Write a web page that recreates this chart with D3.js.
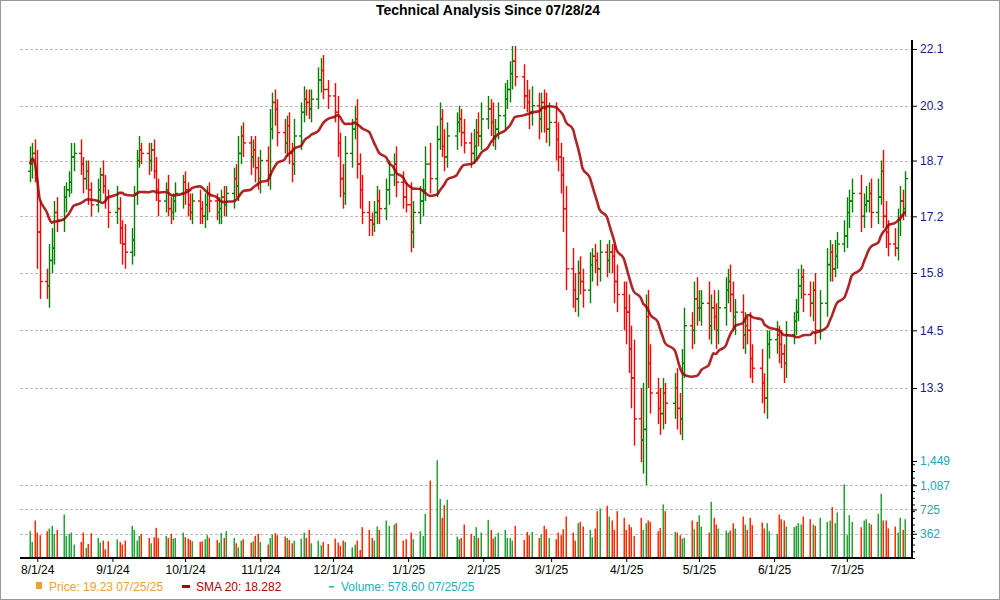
<!DOCTYPE html>
<html><head><meta charset="utf-8">
<script src="https://cdn.jsdelivr.net/npm/d3@7"></script>
<style>body{margin:0;background:#fff}text{font-family:"Liberation Sans",Arial,sans-serif}</style>
</head><body><svg id="c" width="1000" height="600"></svg>
<script>
"use strict";
// closes by month
var closes = [].concat(
 [18.6,18.9,18.4],
 [16.8,15.6,15.5,16.1,16.4,17.3,17.1,17.7,17.9,18.1,18.8,18.9,18.6,18.2,18.4,17.9,17.5,17.9,18.3,18.0,17.7,17.3],
 [17.4,16.9,16.5,16.3,16.6,17.8,18.7,19.0,18.9,18.7,19.0,18.4,17.9,17.6,17.9,17.4,17.3,17.6,17.8,18.1],
 [17.9,17.5,17.3,17.6,17.4,17.2,17.5,17.8,17.6,17.3,17.4,17.7,17.5,17.8,18.2,18.0,18.9,19.4,19.2,18.8,19.0,18.5,18.2],
 [18.7,18.3,19.6,20.4,20.2,19.5,19.2,19.7,18.9,18.6,19.4,20.1,20.5,20.4,20.2,20.5,21.1,21.4,20.8,20.6],
 [20.1,19.2,18.2,17.8,18.9,19.6,19.9,18.6,17.9,17.3,17.1,17.0,17.3,17.6,17.4,17.9,18.3,18.6,18.1,17.7,17.5],
 [16.8,17.3,17.6,17.9,18.6,18.2,19.3,19.9,19.1,18.8,19.4,19.8,19.9,19.5,19.2,18.9,19.1,19.5,19.4,19.9],
 [20.2,19.8,19.4,19.6,20.0,20.5,20.8,21.3,21.7,21.2,20.6,20.4,20.1,20.3,19.9,20.4,20.2,19.6,19.8],
 [19.3,18.8,18.3,17.4,15.9,15.4,15.2,15.8,15.6,15.4,16.0,16.2,16.1,15.9,16.3,16.1,16.3,16.2,15.6,15.3,15.0],
 [14.9,14.1,13.5,12.7,12.3,12.5,14.8,13.8,13.2,12.9,12.8,13.2,13.0,13.3,12.9,12.7,13.8,14.6,14.5,15.2,15.0],
 [15.0,15.1,14.6,15.0,14.8,14.5,15.0,15.4,15.6,15.3,14.8,14.9,14.4,14.6,14.5,13.9,13.7,13.4,13.1,14.2,14.3],
 [14.4,14.2,14.0,13.8,14.4,14.7,14.9,15.5,15.7,15.3,15.1,15.4,14.5,15.1,16.0,16.3,15.9,16.2,16.5,16.7],
 [17.3,17.6,17.8,17.2,17.5,17.6,17.8,17.3,17.7,18.4,17.2,16.8,16.5,16.4,17.1,17.6,17.4,18.2]
);
var wickUp = [].concat(
 [0.5,0.3,0.4],
 [0.6,0.8,0.3,0.4,0.5,0.3,0.4,0.3,0.2,0.3,0.4,0.3,0.4,0.2,0.3,0.3,0.2,0.3,0.2,0.4,0.3,0.2],
 [0.6,0.3,0.2,0.5,0.3,0.2,0.3,0.4,0.2,0.3,0.2,0.3,0.4,0.3,0.2,0.4,0.3,0.2,0.3,0.2],
 [0.3,0.2,0.3,0.2,0.3,0.2,0.3,0.2,0.3,0.2,0.3,0.2,0.3,0.2,0.3,0.4,0.5,0.3,0.4,0.2,0.3,0.4,0.3],
 [0.3,0.4,0.6,0.3,0.4,0.3,0.4,0.3,0.4,0.3,0.5,0.3,0.4,0.3,0.4,0.3,0.4,0.4,0.5,0.3],
 [0.4,0.5,0.3,0.4,0.5,0.3,0.4,0.6,0.3,0.4,0.3,0.2,0.3,0.4,0.3,0.3,0.4,0.3,0.5,0.3,0.4],
 [0.6,0.3,0.4,0.3,0.5,0.6,0.4,0.5,0.3,0.5,0.4,0.3,0.4,0.3,0.4,0.3,0.5,0.4,0.6,0.5],
 [0.4,0.3,0.6,0.3,0.4,0.5,0.3,0.4,0.5,0.5,0.4,0.5,0.4,0.6,0.4,0.3,0.4,0.5,0.6],
 [0.6,0.5,0.4,0.5,0.6,0.5,0.4,0.3,0.4,0.3,0.3,0.2,0.3,0.2,0.3,0.2,0.3,0.2,0.3,0.4,0.3],
 [0.6,0.4,0.5,0.8,0.6,0.9,0.5,0.6,0.4,0.3,0.4,0.3,0.2,0.3,0.4,0.3,0.3,0.4,0.3,0.4,0.5],
 [0.4,0.3,0.5,0.3,0.4,0.3,0.4,0.3,0.3,0.4,0.3,0.3,0.4,0.3,0.2,0.4,0.3,0.4,0.2,0.3,0.2],
 [0.3,0.2,0.3,0.2,0.3,0.2,0.3,0.4,0.3,0.2,0.3,0.2,0.4,0.3,0.4,0.3,0.2,0.4,0.3,0.4],
 [0.4,0.3,0.4,0.5,0.3,0.4,0.3,0.4,0.5,0.3,0.6,0.4,0.3,0.4,0.3,0.4,0.3,0.2]
);
var wickDown = [].concat(
 [0.3,0.4,0.3],
 [0.9,0.4,0.3,0.5,0.3,0.4,0.3,0.3,0.4,0.2,0.3,0.4,0.3,0.4,0.3,0.4,0.3,0.2,0.3,0.2,0.3,0.4],
 [0.3,0.4,0.5,0.4,0.3,0.4,0.3,0.2,0.3,0.4,0.3,0.2,0.3,0.4,0.3,0.2,0.3,0.2,0.3,0.4],
 [0.4,0.3,0.2,0.3,0.4,0.2,0.3,0.4,0.3,0.2,0.3,0.4,0.3,0.3,0.4,0.3,0.4,0.3,0.4,0.5,0.3,0.4,0.3],
 [0.4,0.3,0.4,0.3,0.5,0.4,0.3,0.4,0.3,0.5,0.3,0.4,0.3,0.4,0.3,0.4,0.3,0.4,0.3,0.4],
 [0.3,0.4,0.5,0.4,0.3,0.4,0.3,0.4,0.5,0.3,0.4,0.3,0.2,0.3,0.4,0.3,0.4,0.3,0.4,0.3,0.2],
 [0.5,0.4,0.3,0.4,0.3,0.4,0.5,0.3,0.3,0.4,0.3,0.4,0.3,0.4,0.3,0.4,0.3,0.4,0.3,0.4],
 [0.3,0.4,0.3,0.4,0.3,0.4,0.3,0.4,0.5,0.3,0.4,0.3,0.5,0.4,0.6,0.4,0.7,0.4,0.5],
 [0.6,0.4,0.5,0.6,0.5,0.4,0.3,0.4,0.3,0.4,0.3,0.4,0.3,0.4,0.3,0.4,0.3,0.4,0.5,0.4,0.5],
 [0.7,0.5,0.6,0.5,0.4,0.6,1.0,0.5,0.4,0.3,0.4,0.3,0.4,0.3,0.4,0.3,0.4,0.3,0.4,0.3,0.4],
 [0.3,0.4,0.3,0.4,0.3,0.4,0.3,0.4,0.3,0.4,0.3,0.4,0.3,0.4,0.3,0.4,0.3,0.4,0.3,0.4,0.3],
 [0.3,0.4,0.3,0.4,0.3,0.2,0.3,0.2,0.3,0.4,0.3,0.4,0.3,0.2,0.3,0.4,0.3,0.2,0.3,0.2],
 [0.3,0.4,0.3,0.4,0.3,0.2,0.3,0.4,0.3,0.2,0.3,0.4,0.3,0.2,0.3,0.4,0.3,0.2]
);
var volumes = [].concat(
 [400,240,560],
 [380,340,400,440,480,360,420,650,330,360,380,200,240,380,150,210,370,300,230,260,130,250],
 [280,240,200,260,480,420,260,330,360,300,220,310,450,300,330,300,360,290,300,380],
 [310,290,270,250,240,250,280,340,300,270,230,370,300,400,300,220,160,260,280,230,250,330,360],
 [240,200,300,350,370,340,320,300,270,220,260,290,380,300,420,220,260,190,240,210],
 [290,230,180,260,240,160,200,260,120,460,420,300,260,470,420,560,480,500,520,260,280],
 [380,280,400,330,660,1155,1460,880,600,790,870,320,280,300,500,360,330,460,300,380],
 [570,420,290,320,380,420,300,300,260,480,270,390,340,390,300,350,480,430,300],
 [280,380,340,430,620,380,260,520,540,470,420,310,440,700,740,780,620,560,420,700,600],
 [420,500,460,330,600,420,520,560,540,400,450,800,700,390,380,340,290,300,560,430,540],
 [640,470,380,840,600,500,440,410,380,410,520,440,620,500,420,600,490,530,440,520,400],
 [360,650,580,560,470,460,480,520,500,620,580,500,480,600,540,560,760,520,680,1100],
 [340,640,540,460,560,580,520,500,660,960,560,560,440,470,380,600,420,580]
);
var priceTicks = [13.3, 14.5, 15.8, 17.2, 18.7, 20.3, 22.1];
var volumeTicks = [362, 725, 1087, 1449];
var dateTicks = ["8/1/24","9/1/24","10/1/24","11/1/24","12/1/24","1/1/25","2/1/25","3/1/25","4/1/25","5/1/25","6/1/25","7/1/25"];
var holidays = ["2024-09-02","2024-11-28","2024-12-25","2025-01-01","2025-01-09","2025-01-20","2025-02-17","2025-04-18","2025-05-26","2025-06-19","2025-07-04"];

// trading calendar
var fmtKey = d3.timeFormat("%Y-%m-%d");
var dates = d3.timeDays(new Date(2024, 6, 29), new Date(2025, 6, 26))
  .filter(function(d) { return d.getDay() % 6 !== 0 && holidays.indexOf(fmtKey(d)) < 0; });

var bars = closes.map(function(c, i) {
  var o = i ? closes[i - 1] : 18.4;
  return { date: dates[i], open: o, close: c,
    high: Math.max(o, c) + wickUp[i], low: Math.min(o, c) - wickDown[i],
    vol: volumes[i], up: c >= o };
}).filter(function(b) { return b.date; });
bars.forEach(function(b, i) {
  var w = bars.slice(Math.max(0, i - 19), i + 1);
  b.sma = d3.mean(w, function(d) { return d.close; });
});

var svg = d3.select("#c");
var x = d3.scaleTime().domain([dates[0], dates[dates.length - 1]]).range([30, 905]);
var y = d3.scaleLog().domain([13.3, 22.1]).range([388, 49]);
var yv = d3.scaleLinear().domain([0, 1449]).range([558, 461]);
var axisX = 912;

svg.append("rect").attr("x", 0.5).attr("y", 0.5).attr("width", 999).attr("height", 599)
  .attr("fill", "none").attr("stroke", "#999");
svg.append("text").attr("x", 488).attr("y", 15).attr("text-anchor", "middle")
  .attr("font-size", 14).attr("font-weight", "bold").text("Technical Analysis Since 07/28/24");

// grids
svg.selectAll("line.pg").data(priceTicks).enter().append("line")
  .attr("x1", 20).attr("x2", axisX).attr("y1", function(d) { return Math.round(y(d)) + 0.5; })
  .attr("y2", function(d) { return Math.round(y(d)) + 0.5; })
  .attr("stroke", "#bbb").attr("stroke-dasharray", "3,2");
svg.selectAll("line.vg").data(volumeTicks.slice(0, 3)).enter().append("line")
  .attr("x1", 20).attr("x2", axisX).attr("y1", function(d) { return Math.round(yv(d)) + 0.5; })
  .attr("y2", function(d) { return Math.round(yv(d)) + 0.5; })
  .attr("stroke", "#bbb").attr("stroke-dasharray", "3,2");

// price bars
var g = svg.append("g").attr("stroke-width", 1.4);
bars.forEach(function(b) {
  var cx = Math.round(x(b.date)) + 0.5, col = b.up ? "#008000" : "#ff0000";
  g.append("line").attr("x1", cx).attr("x2", cx).attr("y1", y(b.high)).attr("y2", y(b.low)).attr("stroke", col);
  g.append("line").attr("x1", cx - 2.5).attr("x2", cx).attr("y1", y(b.open)).attr("y2", y(b.open)).attr("stroke", col);
  g.append("line").attr("x1", cx).attr("x2", cx + 2.5).attr("y1", y(b.close)).attr("y2", y(b.close)).attr("stroke", col);
});
svg.append("path").datum(bars)
  .attr("d", d3.line().x(function(d) { return x(d.date); }).y(function(d) { return y(d.sma); }).curve(d3.curveMonotoneX))
  .attr("fill", "none").attr("stroke", "#a00000").attr("stroke-opacity", 0.85).attr("stroke-width", 2.6);

// volume bars
svg.append("g").selectAll("rect").data(bars).enter().append("rect")
  .attr("x", function(d) { return Math.round(x(d.date)) - 0.5; }).attr("width", 1.5)
  .attr("y", function(d) { return yv(d.vol); }).attr("height", function(d) { return 558 - yv(d.vol); })
  .attr("fill", function(d) { return d.up ? "#22a33a" : "#ff2a00"; });

// axes
svg.append("line").attr("x1", axisX).attr("x2", axisX).attr("y1", 40).attr("y2", 559).attr("stroke", "#000").attr("stroke-width", 2);
svg.append("line").attr("x1", 20).attr("x2", axisX + 1).attr("y1", 558).attr("y2", 558).attr("stroke", "#000").attr("stroke-width", 2);
var pa = svg.append("g").attr("transform", "translate(" + axisX + ",0)")
  .call(d3.axisRight(y).tickValues(priceTicks).tickSize(5).tickFormat(d3.format(".1f")));
pa.select(".domain").remove();
pa.selectAll("text").attr("fill", "#1a1a80").attr("font-size", 12).attr("font-family", "Liberation Sans, Arial");
var va = svg.append("g").attr("transform", "translate(" + axisX + ",0)")
  .call(d3.axisRight(yv).tickValues(volumeTicks).tickSize(5).tickFormat(d3.format(",")));
va.select(".domain").remove();
va.selectAll("text").attr("fill", "#20a8b8").attr("font-size", 12).attr("font-family", "Liberation Sans, Arial");
svg.append("g").attr("transform", "translate(" + axisX + ",0)")
  .call(d3.axisRight(yv).ticks(12).tickSize(3).tickFormat(""))
  .select(".domain").remove();
var parse = d3.timeParse("%m/%d/%y");
var xa = svg.append("g").attr("transform", "translate(0,558)")
  .call(d3.axisBottom(x).tickValues(dateTicks.map(function(s) { return parse(s); }))
    .tickSize(4).tickFormat(function(d, i) { return dateTicks[i]; }));
xa.select(".domain").remove();
xa.selectAll("text").attr("fill", "#000").attr("font-size", 12).attr("font-family", "Liberation Sans, Arial");

// legend
svg.append("rect").attr("x", 36).attr("y", 582).attr("width", 6).attr("height", 7).attr("fill", "#f0a030");
svg.append("text").attr("x", 49).attr("y", 591).attr("font-size", 12).attr("fill", "#f0a030").text("Price: 19.23  07/25/25");
svg.append("rect").attr("x", 182).attr("y", 585).attr("width", 8).attr("height", 3).attr("fill", "#b00000");
svg.append("text").attr("x", 196).attr("y", 591).attr("font-size", 12).attr("fill", "#b00000").text("SMA 20: 18.282");
svg.append("rect").attr("x", 329).attr("y", 586).attr("width", 5).attr("height", 1.5).attr("fill", "#20b0c0");
svg.append("text").attr("x", 341).attr("y", 591).attr("font-size", 12).attr("fill", "#20b0c0").text("Volume: 578.60  07/25/25");
</script></body></html>
